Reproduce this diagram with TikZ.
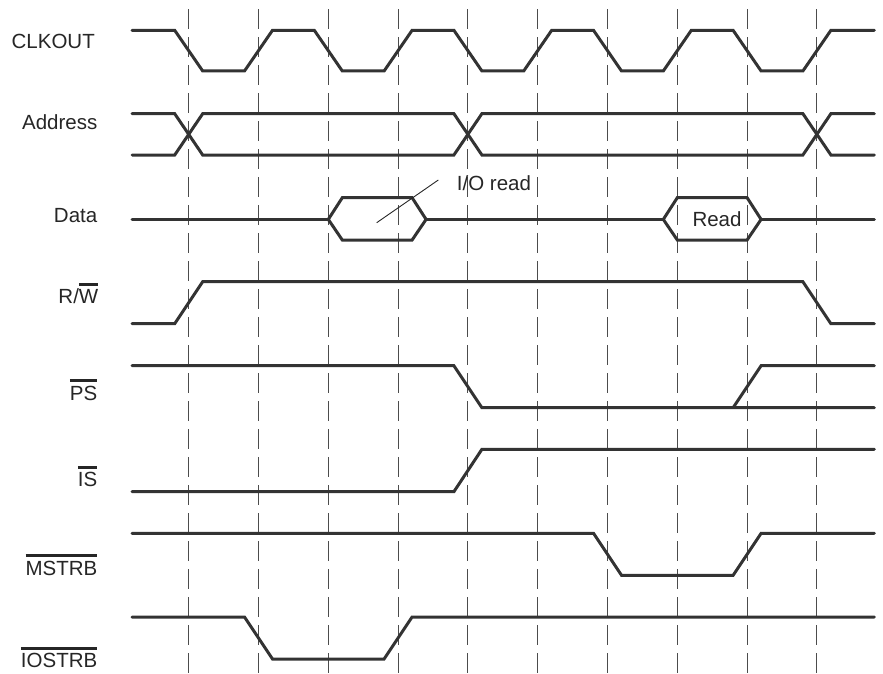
\documentclass[tikz,border=0pt]{standalone}
\usepackage{fontspec}
\setmainfont{Liberation Sans}
\newcommand\olbar[1]{\vbox{\hrule height 2.6pt\kern 3.6pt\hbox{#1}}}
\begin{document}
\begin{tikzpicture}[x=1pt,y=-1pt,
  wave/.style={line width=3pt,draw=black!80,line cap=round,line join=miter},
  grid/.style={line width=1pt,draw=black!70,dash pattern=on 20pt off 8pt},
  lbl/.style={anchor=base east,inner sep=0pt,text=black!85,font=\fontsize{20.5}{24}\selectfont},
  txt/.style={anchor=base west,inner sep=0pt,text=black!85,font=\fontsize{20.5}{24}\selectfont},
  leader/.style={line width=0.9pt,draw=black!85}]
\useasboundingbox (0,0) rectangle (883,674);
% dashed time markers
\foreach \k in {0,...,9}{
  \draw[grid] ({188.7+69.8*\k},9.3) -- ({188.7+69.8*\k},674);
}
% labels
\node[lbl] (clk) at (95,48.3) {CLKOUT};
\node[lbl] (addr) at (97.5,130) {Address};
\node[lbl] (data) at (97.5,222.3) {Data};
\node[lbl] (rw) at (98.5,303.5) {R/\olbar{W}};
\node[lbl] (ps) at (97.5,400) {\olbar{PS}};
\node[lbl] (is) at (97.5,486.7) {\olbar{IS}};
\node[lbl] (mstrb) at (97.5,575) {\olbar{MSTRB}};
\node[lbl] (iostrb) at (97.5,667.7) {\olbar{IOSTRB}};
% CLKOUT
\draw[wave] (132,30.3)--(174.7,30.3)--(202.7,71)--(244.5,71)--(272.5,30.3)--(314.3,30.3)--(342.3,71)--(384.1,71)--(412.1,30.3)--(453.9,30.3)--(481.9,71)--(523.7,71)--(551.7,30.3)--(593.5,30.3)--(621.5,71)--(663.3,71)--(691.3,30.3)--(733.1,30.3)--(761.1,71)--(802.9,71)--(830.9,30.3)--(874.3,30.3);
% Address
\draw[wave] (132,113.7)--(174.7,113.7)--(202.7,155)--(453.9,155)--(481.9,113.7)--(802.9,113.7)--(830.9,155)--(874.3,155);
\draw[wave] (132,155)--(174.7,155)--(202.7,113.7)--(453.9,113.7)--(481.9,155)--(802.9,155)--(830.9,113.7)--(874.3,113.7);
% Data
\draw[wave] (132,219.4)--(328.3,219.4);
\draw[wave] (328.3,219.4)--(342.3,197.7)--(412.1,197.7)--(426.1,219.4)--(412.1,240)--(342.3,240)--cycle;
\draw[wave] (426.1,219.4)--(663.3,219.4);
\draw[wave] (663.3,219.4)--(677.3,197.7)--(747.1,197.7)--(761.1,219.4)--(747.1,240)--(677.3,240)--cycle;
\draw[wave] (761.1,219.4)--(874.3,219.4);
\node[txt] (read) at (692.3,226) {Read};
\node[txt] (ioread) at (456.7,190.7) {I/O read};
\coordinate (ioa) at (376.7,222.7);
\coordinate (iob) at (438.3,180);
\draw[leader] (ioa) -- (iob);
% R/W
\draw[wave] (132,323.7)--(174.7,323.7)--(202.7,281.7)--(802.9,281.7)--(830.9,323.7)--(874.3,323.7);
% PS
\draw[wave] (132,365.7)--(453.9,365.7)--(481.9,407.7)--(874.3,407.7);
\draw[wave] (733.1,407.7)--(761.1,365.7)--(874.3,365.7);
% IS
\draw[wave] (132,491.7)--(453.9,491.7)--(481.9,449.3)--(874.3,449.3);
% MSTRB
\draw[wave] (132,533.3)--(593.5,533.3)--(621.5,575.3)--(733.1,575.3)--(761.1,533.3)--(874.3,533.3);
% IOSTRB
\draw[wave] (132,617)--(244.5,617)--(272.5,659)--(384.1,659)--(412.1,617)--(874.3,617);
\end{tikzpicture}
\end{document}
